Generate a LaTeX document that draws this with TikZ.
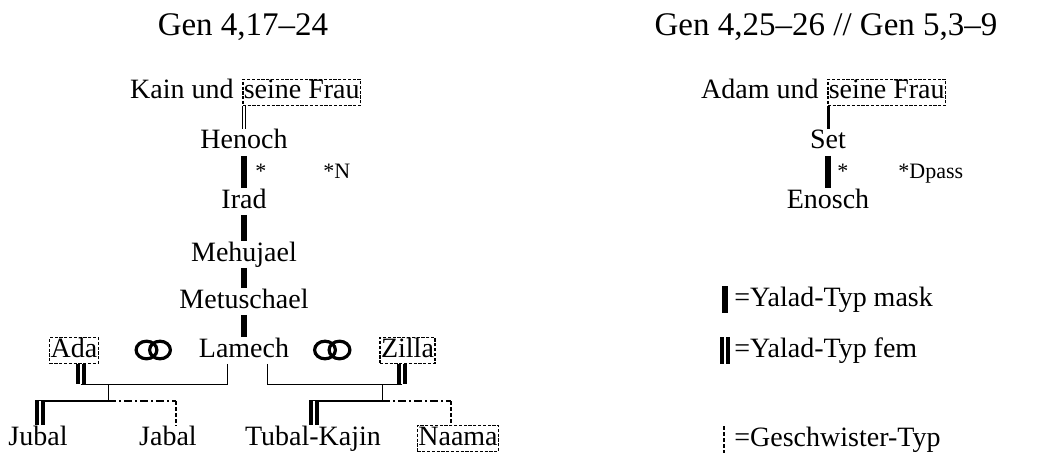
\documentclass[tikz,border=0pt]{standalone}
\usepackage{fontspec}
\setmainfont{Liberation Serif}
\usetikzlibrary{positioning}

\tikzset{
  person/.style={font=\fontsize{14}{16}\selectfont, inner xsep=0.5pt, inner ysep=1.25pt,
    text height=0.85em, text depth=0.2em},
  wife/.style={person, draw, line width=0.8pt, dash pattern=on 1.6pt off 0.8pt},
  head/.style={font=\fontsize{16.5}{18}\selectfont, inner sep=0pt, anchor=base},
  star/.style={font=\fontsize{11}{13}\selectfont, inner sep=0pt, anchor=base west},
  yaladm/.style={line width=2.6pt},
  yaladmlight/.style={line width=1.5pt},
  yaladf/.style={double, line width=2pt, double distance=1pt},
  yaladfthin/.style={double, line width=0.5pt, double distance=1pt},
  lamline/.style={line width=0.5pt},
  kidline/.style={line width=1.1pt},
  sibline/.style={line width=1.1pt, dash pattern=on 4pt off 1.5pt on 1pt off 1.5pt},
  sibdrop/.style={line width=1.1pt, dash pattern=on 2pt off 1pt},
  ringstyle/.style={line width=1.6pt}
}

\begin{document}
\begin{tikzpicture}[x=0.5pt, y=-0.5pt]
  \useasboundingbox (0,0) rectangle (1053,454);

  % 1. Ueberschriften
  \node[head] (genL) at (243,36) {Gen 4,17–24};
  \node[head] (genR) at (826,36) {Gen 4,25–26 // Gen 5,3–9};

  % 2. Linie Kain
  \node[wife, anchor=base west] (kainwife) at (242,99) {seine Frau};
  \node[person, anchor=base east] (kain) at (235,99) {Kain und};
  \node[person, anchor=base] (henoch) at (244,149) {Henoch};
  \node[person, anchor=base] (irad) at (244,208) {Irad};
  \node[person, anchor=base] (mehujael) at (244,261) {Mehujael};
  \node[person, anchor=base] (metuschael) at (244,308) {Metuschael};
  \node[person, anchor=base] (lamech) at (244,357) {Lamech};
  \node[star] (starL) at (255,178) {*};
  \node[star] (starN) at (323,178) {*N};

  \draw[yaladfthin] (kainwife.south -| henoch.north) -- (henoch.north);
  \draw[yaladm] (henoch) -- (irad);
  \draw[yaladm] (irad) -- (mehujael);
  \draw[yaladm] (mehujael) -- (metuschael);
  \draw[yaladm] (metuschael) -- (lamech);

  % 3. Lamech, Frauen und Kinder
  \node[wife, anchor=base] (ada) at (74,357) {Ada};
  \node[wife, anchor=base] (zilla) at (407.5,357) {Zilla};
  \draw[ringstyle] (146.5,350) ellipse [x radius=5.2pt, y radius=4.4pt];
  \draw[ringstyle] (160,350) ellipse [x radius=5.2pt, y radius=4.4pt];
  \draw[ringstyle] (325,350) ellipse [x radius=5.2pt, y radius=4.4pt];
  \draw[ringstyle] (339.5,350) ellipse [x radius=5.2pt, y radius=4.4pt];

  \node[person, anchor=base] (jubal) at (38,445) {Jubal};
  \node[person, anchor=base] (jabal) at (168,445) {Jabal};
  \node[person, anchor=base] (tubal) at (313,445) {Tubal-Kajin};
  \node[wife, anchor=base] (naama) at (458,445) {Naama};

  % links: Ada
  \coordinate (adaJ) at (81,384);
  \coordinate (lamL) at (227,384);
  \coordinate (famL) at (108,384);
  \coordinate (kidsL) at (108,401);
  \coordinate (jubalJ) at (39.5,401);
  \coordinate (jabalJ) at (176,401);
  \draw[yaladf] (ada.south -| adaJ) -- (adaJ);
  \draw[lamline] (lamech.south -| lamL) -- (lamL) -- (adaJ);
  \draw[lamline] (famL) -- (kidsL);
  \draw[kidline] (kidsL) -- ([xshift=-2.5pt]jubalJ);
  \draw[yaladf] (jubalJ) -- (jubal.north -| jubalJ);
  \draw[sibline] (kidsL) -- (jabalJ);
  \draw[sibdrop] (jabalJ) -- (jabal.north -| jabalJ);

  % rechts: Zilla
  \coordinate (zillaJ) at (402,384);
  \coordinate (lamR) at (267,384);
  \coordinate (famR) at (382,384);
  \coordinate (kidsR) at (382,401);
  \coordinate (tubalJ) at (314,401);
  \coordinate (naamaJ) at (451,401);
  \draw[yaladf] (zilla.south -| zillaJ) -- (zillaJ);
  \draw[lamline] (lamech.south -| lamR) -- (lamR) -- (zillaJ);
  \draw[lamline] (famR) -- (kidsR);
  \draw[kidline] (kidsR) -- ([xshift=-2.5pt]tubalJ);
  \draw[yaladf] (tubalJ) -- (tubal.north -| tubalJ);
  \draw[sibline] (kidsR) -- (naamaJ);
  \draw[sibdrop] (naamaJ) -- (naama.north -| naamaJ);

  % 4. Linie Adam
  \node[wife, anchor=base west] (adamwife) at (827,99) {seine Frau};
  \node[person, anchor=base east] (adam) at (820,99) {Adam und};
  \node[person, anchor=base] (set) at (828,149) {Set};
  \node[person, anchor=base] (enosch) at (828,208) {Enosch};
  \node[star] (starR) at (837,178) {*};
  \node[star] (starD) at (898,178) {*Dpass};
  \draw[yaladmlight] (adamwife.south -| set.north) -- (set.north);
  \draw[yaladm] (set) -- (enosch);

  % 5. Legende
  \node[person, anchor=base west] (legM) at (733,306) {=Yalad-Typ mask};
  \node[person, anchor=base west] (legF) at (733,357) {=Yalad-Typ fem};
  \node[person, anchor=base west] (legG) at (733,446) {=Geschwister-Typ};
  \draw[yaladm] ([xshift=-4pt]legM.north west) -- ([xshift=-4pt]legM.south west);
  \draw[yaladf] ([xshift=-4pt]legF.north west) -- ([xshift=-4pt]legF.south west);
  \draw[sibdrop] ([xshift=-4.5pt]legG.north west) -- ([xshift=-4.5pt]legG.south west);

\end{tikzpicture}
\end{document}
